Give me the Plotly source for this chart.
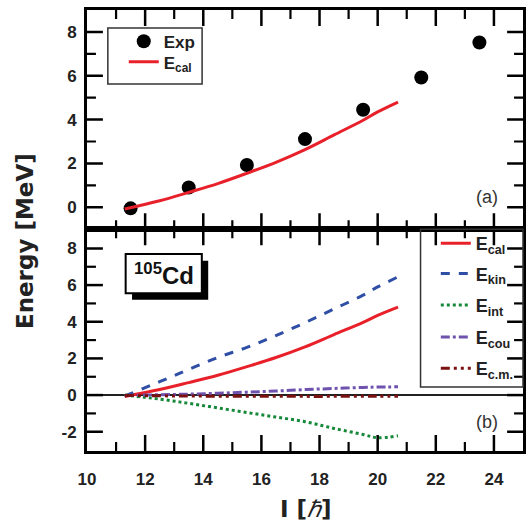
import plotly.graph_objects as go

# ---------------- data ----------------
spin_exp = [11.5, 13.5, 15.5, 17.5, 19.5, 21.5, 23.5]
e_exp = [-0.05, 0.9, 1.93, 3.11, 4.45, 5.92, 7.52]

spin_cal = [11.3, 12.5, 13.5, 14.5, 15.5, 16.5, 17.5, 18.5, 19.5, 20.0, 20.7]
e_cal = [-0.08, 0.3, 0.68, 1.08, 1.55, 2.05, 2.63, 3.3, 3.97, 4.35, 4.8]
e_kin = [-0.05, 0.73, 1.4, 2.05, 2.6, 3.25, 3.95, 4.7, 5.45, 5.9, 6.45]
e_int = [0.0, -0.22, -0.45, -0.7, -0.95, -1.2, -1.45, -1.82, -2.15, -2.33, -2.22]
e_cou = [-0.02, 0.02, 0.05, 0.1, 0.16, 0.22, 0.3, 0.36, 0.42, 0.44, 0.45]
e_cm = [-0.02, -0.04, -0.05, -0.06, -0.06, -0.06, -0.07, -0.07, -0.07, -0.07, -0.07]

x_ticks = [10, 12, 14, 16, 18, 20, 22, 24]
x_minor = [11, 13, 15, 17, 19, 21, 23]
ya_ticks = [0, 2, 4, 6, 8]
ya_minor = [1, 3, 5, 7]
yb_ticks = [-2, 0, 2, 4, 6, 8]
yb_text = ["-2", "0", "2", "4", "6", "8"]
yb_minor = [-1, 1, 3, 5, 7]

X_RANGE = [10, 25]
YA_RANGE = [-1, 9]
YB_RANGE = [-3.05, 9.05]

RED = "#E8202A"
BLUE = "#2F4FA6"
GREEN = "#16883A"
PURPLE = "#6E52AE"
DRED = "#7A1010"
FONT = "Liberation Sans, Arial, sans-serif"
TFONT = "DejaVu Sans, Liberation Sans, sans-serif"

W, H = 529, 524
ML, MR, MT, MB = 87, 3, 10, 73
SPLIT = 0.503
PW = W - ML - MR
PH = H - MT - MB

fig = go.Figure()

# top panel
fig.add_trace(go.Scatter(x=spin_exp, y=e_exp, mode="markers", name="<b>Exp</b>",
                         marker=dict(color="black", size=14), xaxis="x", yaxis="y",
                         legend="legend"))
fig.add_trace(go.Scatter(x=spin_cal, y=e_cal, mode="lines", name="<b>E<sub>cal</sub></b>",
                         line=dict(color=RED, width=3, shape="spline"), xaxis="x", yaxis="y",
                         legend="legend3"))

# bottom panel, one legend box entry each
series = [
    ("<b>E<sub>cal</sub></b>", e_cal, RED, "solid"),
    ("<b>E<sub>kin</sub></b>", e_kin, BLUE, "dash"),
    ("<b>E<sub>int</sub></b>", e_int, GREEN, "dot"),
    ("<b>E<sub>cou</sub></b>", e_cou, PURPLE, "dashdot"),
    ("<b>E<sub>c.m.</sub></b>", e_cm, DRED, "9px,4px,3px,4px,3px,4px"),
]
bottom_legends = ["legend2", "legend4", "legend5", "legend6", "legend7"]
item_px = [244, 274.3, 305.7, 337.7, 369]
for (name, vals, col, dash), lg in zip(series, bottom_legends):
    fig.add_trace(go.Scatter(x=spin_cal, y=vals, mode="lines", name=name,
                             line=dict(color=col, width=3, dash=dash, shape="spline"),
                             xaxis="x2", yaxis="y2", legend=lg))

# ---- tick marks (inside, all four sides), drawn as line traces from the tick arrays ----
MAJ, MIN = 16, 9
x_upp = (X_RANGE[1] - X_RANGE[0]) / PW  # data units per px along x

def tick_trace(xa, ya, yr, panel_h, xv, yv, L, w):
    y_upp = (yr[1] - yr[0]) / panel_h
    xs, ys = [], []
    for v in xv:
        if X_RANGE[0] < v < X_RANGE[1]:
            xs += [v, v, None, v, v, None]
            ys += [yr[0], yr[0] + L * y_upp, None, yr[1] - L * y_upp, yr[1], None]
    for v in yv:
        if yr[0] < v < yr[1]:
            xs += [X_RANGE[0], X_RANGE[0] + L * x_upp, None, X_RANGE[1] - L * x_upp, X_RANGE[1], None]
            ys += [v, v, None, v, v, None]
    fig.add_trace(go.Scatter(x=xs, y=ys, mode="lines", xaxis=xa, yaxis=ya,
                             line=dict(color="black", width=w), showlegend=False,
                             hoverinfo="skip", connectgaps=False))

tick_trace("x", "y", YA_RANGE, PH * (1 - SPLIT), x_ticks, ya_ticks, MAJ, 2.5)
tick_trace("x", "y", YA_RANGE, PH * (1 - SPLIT), x_minor, ya_minor, MIN, 2.2)
tick_trace("x2", "y2", YB_RANGE, PH * SPLIT, x_ticks, yb_ticks, MAJ, 2.5)
tick_trace("x2", "y2", YB_RANGE, PH * SPLIT, x_minor, yb_minor, MIN, 2.2)

tickfont = dict(family=FONT, size=17, color="#222", weight="bold")
frame = dict(showline=True, linewidth=3, linecolor="black", mirror=True,
             ticks="", showgrid=False, zeroline=False)

leg_common = dict(xanchor="left", yanchor="top", bgcolor="rgba(0,0,0,0)", borderwidth=0,
                  itemwidth=30)

layout_legends = {}
for lg, px in zip(bottom_legends, item_px):
    layout_legends[lg] = dict(x=0.80, y=(H - MB - (px - 19)) / PH,
                              font=dict(family=FONT, size=18, color="#222"), **leg_common)

fig.update_layout(
    width=W, height=H,
    margin=dict(l=ML, r=MR, t=MT, b=MB),
    paper_bgcolor="white", plot_bgcolor="white",
    font=dict(family=FONT, color="#222"),
    xaxis=dict(domain=[0, 1], range=X_RANGE, anchor="y", tickvals=x_ticks,
               showticklabels=False, **frame),
    yaxis=dict(domain=[SPLIT, 1], range=YA_RANGE, anchor="x", tickvals=ya_ticks,
               tickfont=tickfont, ticklabelstandoff=4, **frame),
    xaxis2=dict(domain=[0, 1], range=X_RANGE, anchor="y2", tickvals=x_ticks,
                tickfont=tickfont, ticklabelstandoff=11, **frame),
    yaxis2=dict(domain=[0, SPLIT], range=YB_RANGE, anchor="x2", tickvals=yb_ticks,
                ticktext=yb_text, tickfont=tickfont, ticklabelstandoff=4, **frame),
    legend=dict(x=0.0843, y=0.969, font=dict(family=FONT, size=17, color="#222"),
                **leg_common),
    legend3=dict(x=0.0843, y=0.9222, font=dict(family=FONT, size=17, color="#222"),
                 **leg_common),
    showlegend=True,
    **layout_legends,
)

# legend frames
fig.add_shape(type="rect", xref="paper", yref="paper", x0=0.0478, x1=0.264, y0=0.832, y1=0.959,
              line=dict(color="#333", width=1.5), fillcolor="rgba(0,0,0,0)")
fig.add_shape(type="rect", xref="paper", yref="paper", x0=0.765, x1=1.0, y0=0.145, y1=SPLIT,
              line=dict(color="#333", width=1.5), fillcolor="rgba(0,0,0,0)")

# zero line in the bottom panel
fig.add_shape(type="line", xref="x2 domain", yref="y2", x0=0, x1=1, y0=0, y1=0,
              line=dict(color="#222", width=2), layer="below")

# 105Cd label with shadow
fig.add_shape(type="rect", xref="x2", yref="y2", x0=11.55, x1=14.17, y0=5.2, y1=7.33,
              fillcolor="black", line=dict(width=0))
fig.add_shape(type="rect", xref="x2", yref="y2", x0=11.33, x1=13.95, y0=5.56, y1=7.69,
              fillcolor="white", line=dict(color="black", width=2))
fig.add_annotation(x=12.64, y=6.62, xref="x2", yref="y2", showarrow=False,
                   xanchor="center", yanchor="middle",
                   text="<b><sup>105</sup>Cd</b>",
                   font=dict(family=FONT, size=24, color="#111"))

# panel tags
fig.add_annotation(x=23.75, y=0.45, xref="x", yref="y", showarrow=False, text="(a)",
                   xanchor="center", yanchor="middle",
                   font=dict(family=FONT, size=18, color="#333"))
fig.add_annotation(x=23.75, y=-1.47, xref="x2", yref="y2", showarrow=False, text="(b)",
                   xanchor="center", yanchor="middle",
                   font=dict(family=FONT, size=18, color="#333"))

# axis titles
fig.add_annotation(x=-0.1435, y=0.477, xref="paper", yref="paper", showarrow=False,
                   xanchor="center", yanchor="middle",
                   text="<b>Energy [MeV]</b>", textangle=-90,
                   font=dict(family=TFONT, size=23, color="#222"))
fig.add_annotation(x=0.503, y=-0.1315, xref="paper", yref="paper", showarrow=False,
                   xanchor="center", yanchor="middle",
                   text="<b>I [</b><i><span style='font-family:Liberation Serif'>ℏ</span></i><b>]</b>",
                   font=dict(family=TFONT, size=23, color="#222"))

fig.write_html("out.html", config={"displayModeBar": False},
               post_script="document.body.style.margin='0px';")
